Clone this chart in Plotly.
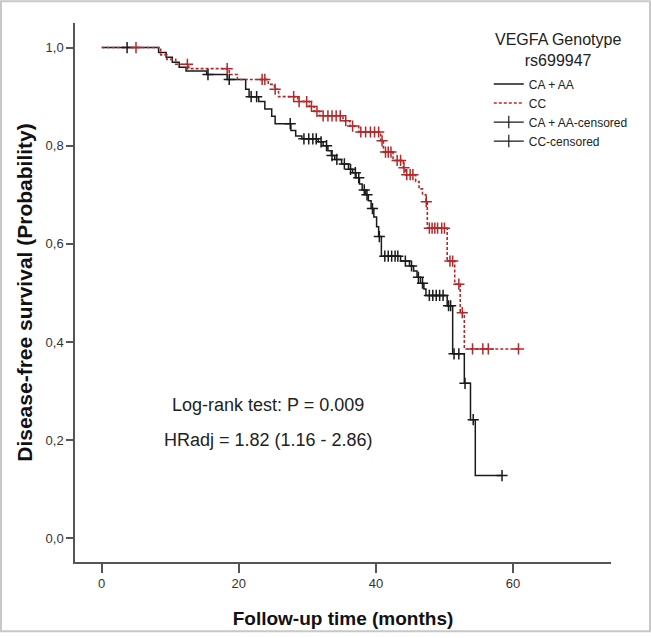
import numpy as np
import plotly.graph_objects as go

# ---- data ----
# CA + AA group (black): step times (months) and survival after step
caaa_time = [0, 8.3, 9.4, 10.3, 11.3, 12.3, 15.3, 18.3, 21.0, 21.5, 22.9, 23.8, 24.8, 25.3,
             27.6, 28.3, 29.2, 31.6, 32.3, 33.0, 33.5, 34.0, 35.0, 36.0, 36.6, 37.1, 37.6,
             38.0, 38.5, 38.9, 39.3, 39.7, 40.1, 40.4, 40.8, 43.6, 44.9, 45.5, 46.0, 46.5,
             47.0, 47.3, 50.4, 51.2, 52.9, 53.8, 54.5, 58.4]
caaa_surv = [1.0, 0.99, 0.98, 0.97, 0.96, 0.952, 0.945, 0.935, 0.915, 0.90, 0.89, 0.875, 0.86, 0.845,
             0.831, 0.82, 0.814, 0.808, 0.80, 0.79, 0.78, 0.772, 0.763, 0.752, 0.745, 0.735, 0.722,
             0.71, 0.70, 0.688, 0.672, 0.655, 0.635, 0.615, 0.575, 0.565, 0.555, 0.545, 0.532, 0.52,
             0.508, 0.495, 0.474, 0.376, 0.316, 0.242, 0.128, 0.128]
caaa_cens = [3.7, 15.5, 18.6, 21.8, 22.6, 27.5, 29.5, 30.2, 30.8, 31.3, 32.0, 32.8, 33.6, 34.3,
             35.4, 36.3, 37.0, 37.5, 38.3, 38.7, 39.5, 40.5, 41.3, 41.8, 42.3, 42.8, 43.2, 44.3,
             45.2, 46.2, 46.8, 47.8, 48.3, 48.8, 49.3, 49.8, 50.6, 50.9, 51.4, 52.1, 53.0, 54.2, 58.4]

# CC group (red dotted)
cc_time = [0, 8.6, 9.5, 10.8, 12.7, 18.6, 19.8, 24.3, 25.2, 25.8, 28.6, 30.3, 31.0, 31.8,
           35.2, 36.2, 37.5, 40.7, 41.1, 42.5, 44.0, 44.3, 45.8, 46.3, 46.8, 47.3, 47.5,
           50.4, 51.5, 52.3, 52.9, 60.8]
cc_surv = [1.0, 0.985, 0.976, 0.966, 0.957, 0.945, 0.935, 0.925, 0.915, 0.90, 0.89, 0.88, 0.87, 0.861,
           0.851, 0.84, 0.828, 0.81, 0.787, 0.77, 0.755, 0.741, 0.727, 0.712, 0.70, 0.686, 0.632,
           0.565, 0.518, 0.46, 0.386, 0.386]
cc_cens = [5.0, 12.5, 18.3, 23.4, 23.8, 25.3, 28.0, 28.8, 29.9, 30.6, 31.4, 32.3, 33.0, 33.6,
           34.2, 34.8, 35.6, 36.6, 37.8, 38.5, 39.2, 39.8, 40.4, 40.9, 41.4, 41.8, 42.2, 43.1,
           43.6, 44.1, 44.5, 45.0, 45.4, 47.35, 47.8, 48.2, 48.6, 49.0, 49.6, 50.0, 50.8, 51.2,
           52.1, 52.6, 54.1, 55.6, 56.4, 60.8]

x_ticks = [0, 20, 40, 60]
y_ticks = [0.0, 0.2, 0.4, 0.6, 0.8, 1.0]
y_ticktext = ["0,0", "0,2", "0,4", "0,6", "0,8", "1,0"]


def surv_at(times, surv, t):
    idx = np.searchsorted(np.array(times), np.array(t), side="right") - 1
    return list(np.array(surv)[idx])


BLACK = "#1a1a1a"
RED = "#b5282a"
FONT = "Liberation Sans, Arial, sans-serif"

# plot-area geometry in pixels (used only to place texts in paper coordinates)
L, T, W, H = 75, 23, 536, 544


def px(xp):
    return (xp - L) / W


def py(yp):
    return (T + H - yp) / H


fig = go.Figure()
fig.add_trace(go.Scatter(x=caaa_time, y=caaa_surv, mode="lines", line_shape="hv",
                         line=dict(color=BLACK, width=1.5), name="CA + AA"))
fig.add_trace(go.Scatter(x=cc_time, y=cc_surv, mode="lines", line_shape="hv",
                         line=dict(color=RED, width=1.6, dash="3px,2px"), name="CC"))
fig.add_trace(go.Scatter(x=caaa_cens, y=surv_at(caaa_time, caaa_surv, caaa_cens), mode="markers",
                         marker=dict(symbol="cross-thin", size=8, line=dict(color=BLACK, width=1.5)),
                         showlegend=False, hoverinfo="skip"))
fig.add_trace(go.Scatter(x=cc_cens, y=surv_at(cc_time, cc_surv, cc_cens), mode="markers",
                         marker=dict(symbol="cross-thin", size=8, line=dict(color=RED, width=1.5)),
                         showlegend=False, hoverinfo="skip"))
# legend entries for censored marks
for nm in ["CA + AA-censored", "CC-censored"]:
    fig.add_trace(go.Scatter(x=[None], y=[None], mode="lines+markers", name=nm,
                             line=dict(color=BLACK, width=1.2),
                             marker=dict(symbol="line-ns", size=9, line=dict(color=BLACK, width=1.2))))

# legend title (two centred lines, one text)
fig.add_annotation(x=px(558), y=py(50), xref="paper", yref="paper", xanchor="center",
                   yanchor="middle", align="center", text="VEGFA Genotype<br>rs699947",
                   showarrow=False, font=dict(family=FONT, size=16, color="#222"))

fig.add_annotation(x=px(268), y=py(409), xref="paper", yref="paper", xanchor="center",
                   yanchor="middle", text="Log-rank test: P = 0.009",
                   showarrow=False, font=dict(family=FONT, size=18, color="#222"))
fig.add_annotation(x=px(268), y=py(444), xref="paper", yref="paper", xanchor="center",
                   yanchor="middle", text="HRadj = 1.82 (1.16 - 2.86)",
                   showarrow=False, font=dict(family=FONT, size=18, color="#222"))

# outer light border around the whole picture
fig.add_shape(type="rect", xref="paper", yref="paper",
              x0=px(1), x1=px(650), y0=py(637), y1=py(1),
              line=dict(color="#c8c8c8", width=2))

fig.update_layout(
    width=651, height=638,
    margin=dict(l=L, r=651 - L - W, t=T, b=638 - T - H),
    paper_bgcolor="white", plot_bgcolor="white",
    font=dict(family=FONT, color="#222"),
    legend=dict(x=0.772, y=py(70), xanchor="left", yanchor="top",
                font=dict(family=FONT, size=12, color="#222"),
                tracegroupgap=0, itemwidth=30, bgcolor="rgba(0,0,0,0)"),
    xaxis=dict(range=[-3.9, 74.3], tickvals=x_ticks, ticks="outside", ticklen=9, tickwidth=1.5,
               tickcolor="#555", showline=True, linecolor="#555", linewidth=1.5,
               showgrid=False, zeroline=False, tickfont=dict(size=13, color="#333"),
               title=dict(text="<b>Follow-up time (months)</b>", font=dict(size=19, color="#111"),
                          standoff=21)),
    yaxis=dict(range=[-0.048, 1.05], tickvals=y_ticks, ticktext=y_ticktext, ticks="outside",
               ticklen=7, tickwidth=1.5, tickcolor="#555", showline=True, linecolor="#555",
               linewidth=1.5, showgrid=False, zeroline=False, tickfont=dict(size=13, color="#333"),
               title=dict(text="<b>Disease-free survival (Probability)</b>",
                          font=dict(size=21, color="#111"), standoff=7)),
)

fig.write_html("out.html", config={"displayModeBar": False},
               post_script="document.body.style.margin='0px';")
